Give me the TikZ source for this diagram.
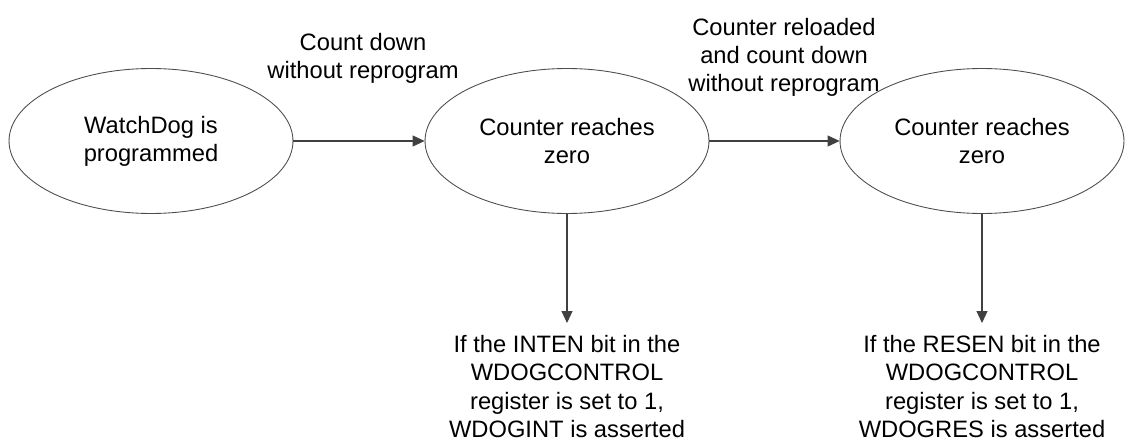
\documentclass[tikz,border=0pt]{standalone}
\usepackage{fontspec}
\setmainfont{Liberation Sans}
\usetikzlibrary{shapes.geometric,arrows.meta}
\begin{document}
\begin{tikzpicture}[x=0.02cm, y=-0.02cm,
		stateEllipse/.style={ellipse, draw=black!70, line width=0.5pt, minimum width=5.68cm, minimum height=2.9cm, align=center, font=\fontsize{13.5}{16}\selectfont},
		noteText/.style={align=center, inner sep=2pt, font=\fontsize{13.5}{16}\selectfont},
		flowArrow/.style={draw=black!75, line width=0.6pt, -{Triangle[length=0.24cm, width=0.22cm]}}]
		\useasboundingbox (0,0) rectangle (1125,442);
		\node[stateEllipse](progEllipse) at (151,141){WatchDog is\\programmed};
		\node[stateEllipse](zeroIntEllipse) at (567,141){Counter reaches\\zero};
		\node[stateEllipse](zeroResEllipse) at (982,141){Counter reaches\\zero};
		\node[noteText](countLabel) at (363,58){Count down\\without reprogram};
		\node[noteText](reloadLabel) at (784,57){Counter reloaded\\and count down\\without reprogram};
		\node[noteText, inner sep=7pt, anchor=north](intNote) at (567,323){If the INTEN bit in the\\WDOGCONTROL\\register is set to 1,\\WDOGINT is asserted};
		\node[noteText, inner sep=7pt, anchor=north](resNote) at (982,323){If the RESEN bit in the\\WDOGCONTROL\\register is set to 1,\\WDOGRES is asserted};
		\draw[flowArrow] (progEllipse) -- (zeroIntEllipse);
		\draw[flowArrow] (zeroIntEllipse) -- (zeroResEllipse);
		\draw[flowArrow] (zeroIntEllipse.south) -- (intNote.north);
		\draw[flowArrow] (zeroResEllipse.south) -- (resNote.north);
	\end{tikzpicture}
\end{document}
